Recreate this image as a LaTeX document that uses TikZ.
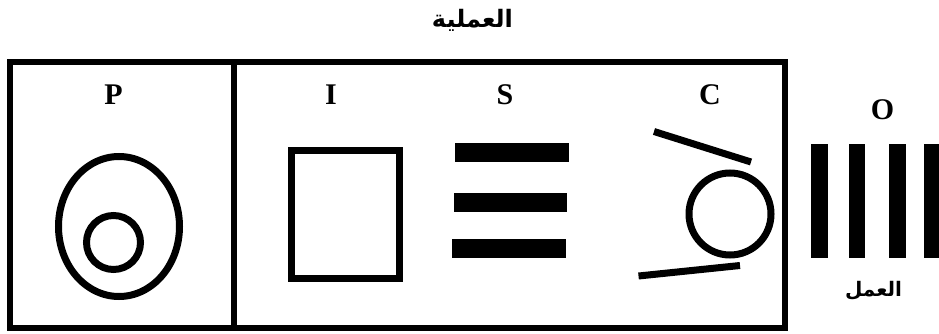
\documentclass[tikz,border=0pt]{standalone}
\usepackage{fontspec}
\setmainfont{Liberation Serif}
\newfontfamily\arabicfont[Script=Arabic]{DejaVu Sans}
\TeXXeTstate=1
\begin{document}
\begin{tikzpicture}[x=1pt,y=-1pt,
  lbl/.style={font=\fontsize{30}{34}\selectfont\bfseries, inner sep=0pt, anchor=base},
  arlbl/.style={font=\arabicfont\bfseries\fontsize{20}{24}\selectfont, inner sep=0pt},
  frame/.style={draw=black, line width=6pt},
  shp/.style={draw=black, line width=7pt},
  bar/.style={fill=black, draw=none}]
\useasboundingbox (0,0) rectangle (939,334);
\fill[white] (0,0) rectangle (939,334);
% frame
\draw[frame] (10,62) rectangle (785,327.5);
\draw[frame] (233.5,62) -- (233.5,327.5);
% title
\node[arlbl, font=\arabicfont\bfseries\fontsize{24}{28}\selectfont] (title) at (472.5,20) {\beginR العملية\endR};
% labels
\node[lbl] (P) at (113.5,105) {P};
\node[lbl] (I) at (331,105) {I};
\node[lbl] (S) at (505,105) {S};
\node[lbl] (C) at (710,104.5) {C};
\node[lbl] (O) at (882.5,120) {O};
% P shapes
\draw[shp] (119,226.5) ellipse [x radius=60.5, y radius=70];
\draw[shp] (113.5,242.5) circle [radius=27];
% I shape
\draw[shp] (291.5,150.5) rectangle (399.5,278.5);
% S bars
\fill[bar] (455,143) rectangle (569,162);
\fill[bar] (454,193) rectangle (567,212);
\fill[bar] (452,239) rectangle (566,258);
% C shapes
\draw[shp] (654,131.5) -- (751,162);
\draw[shp] (730,214) circle [radius=41];
\draw[shp] (638.5,276) -- (740,265.5);
% O bars
\fill[bar] (811,144) rectangle (828,258);
\fill[bar] (849,144) rectangle (865,258);
\fill[bar] (889,144) rectangle (906,258);
\fill[bar] (924,144) rectangle (941,258);
\node[arlbl] (work) at (873.5,291) {\beginR العمل\endR};
\end{tikzpicture}
\end{document}
